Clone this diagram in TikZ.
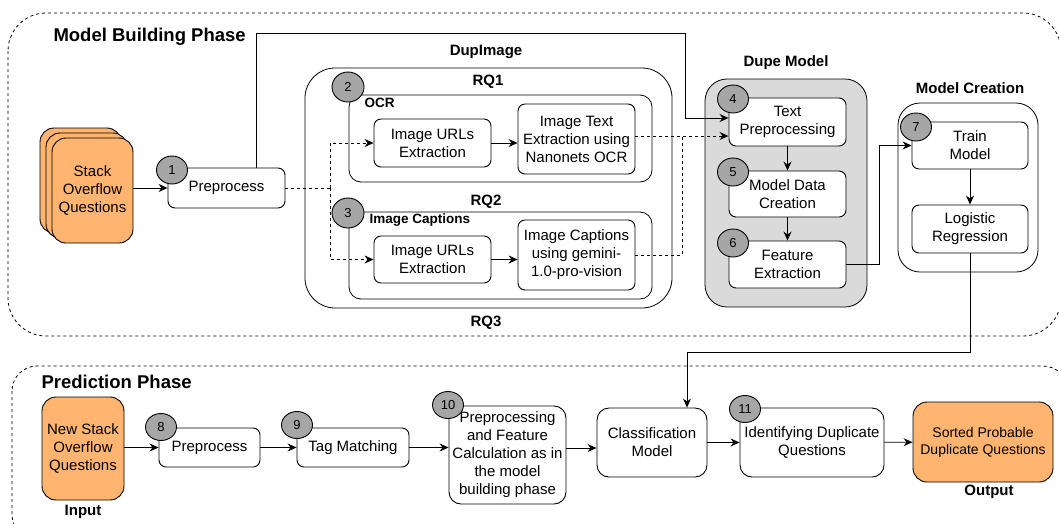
\documentclass[tikz,border=0pt]{standalone}
\usepackage{fontspec}
\setmainfont{Liberation Sans}
\usetikzlibrary{arrows.meta,shapes.geometric}
\definecolor{orng}{HTML}{FFB570}
\definecolor{numgray}{HTML}{A6A6A6}
\definecolor{dupegray}{HTML}{DADADA}
\tikzset{
  box/.style={draw,rounded corners=7pt,fill=white,line width=0.9pt,align=center,inner sep=1pt,font=\fontsize{15}{18}\selectfont},
  qbox/.style={box,fill=orng,rounded corners=14pt},
  num/.style={draw,ellipse,fill=numgray,minimum width=31pt,minimum height=28pt,inner sep=0pt,line width=0.9pt,font=\fontsize{13}{15}\selectfont},
  grp/.style={draw,line width=0.8pt,rounded corners=20pt},
  ttl/.style={font=\bfseries\fontsize{15}{18}\selectfont},
  sub/.style={font=\bfseries\fontsize{13.5}{16}\selectfont},
  phase/.style={font=\bfseries\fontsize{18.5}{22}\selectfont},
  arr/.style={-{Stealth[length=9pt,width=8pt]},line width=0.9pt},
  dsh/.style={dashed,line width=0.9pt},
}
\begin{document}
\begin{tikzpicture}[x=1pt,y=-1pt]
\useasboundingbox (0,0) rectangle (1059,523);
\draw[dashed,line width=0.8pt,rounded corners=38pt] (8,13) rectangle (1061,336);
\draw[dashed,line width=0.8pt,rounded corners=25pt] (12,366) rectangle (1068,540);
\node[phase,anchor=west] (mbp) at (50,37){Model Building Phase};
\node[phase,anchor=west] (pp) at (38,382){Prediction Phase};
\node[qbox,minimum width=81,minimum height=105] (stk3) at (80.5,180.5){};
\node[qbox,minimum width=81,minimum height=105] (stk2) at (86.5,185.5){};
\node[qbox,minimum width=81,minimum height=105] (stk) at (92.5,190.5){Stack\\Overflow\\Questions};
\node[box,minimum width=117,minimum height=40] (pre1) at (226.5,188){Preprocess};
\node[grp,minimum width=367,minimum height=240,rounded corners=30pt] (dup) at (488.5,188){};
\node[ttl] (duptl) at (486,52){DupImage};
\node[ttl] (rq1) at (488,82){RQ1};
\node[ttl] (rq2) at (486,202){RQ2};
\node[ttl] (rq3) at (486,323){RQ3};
\node[grp,minimum width=303,minimum height=87,rounded corners=12pt] (ocr) at (500.5,138.5){};
\node[grp,minimum width=303,minimum height=87,rounded corners=12pt] (cap) at (500.5,255.5){};
\node[sub,anchor=west] (ocrtl) at (361,103){OCR};
\node[sub,anchor=west] (captl) at (366,220){Image Captions};
\node[box,minimum width=117,minimum height=48] (url1) at (432.5,143){Image URLs\\Extraction};
\node[box,minimum width=117,minimum height=70] (ocrx) at (576.5,139){Image Text\\Extraction using\\Nanonets OCR};
\node[box,minimum width=117,minimum height=47] (url2) at (432.5,259.5){Image URLs\\Extraction};
\node[box,minimum width=117,minimum height=70] (gem) at (576.5,255){Image Captions\\using gemini-\\1.0-pro-vision};
\node[grp,fill=dupegray,minimum width=162,minimum height=228,rounded corners=22pt] (dupe) at (786,193){};
\node[ttl] (dupetl) at (786,63){Dupe Model};
\node[box,minimum width=117,minimum height=48] (txt) at (787.5,122){Text\\Preprocessing};
\node[box,minimum width=117,minimum height=46] (mdc) at (787.5,194){Model Data\\Creation};
\node[box,minimum width=117,minimum height=47] (fex) at (787.5,264.5){Feature\\Extraction};
\node[grp,minimum width=140,minimum height=169,rounded corners=22pt] (mcr) at (968,187.5){};
\node[ttl] (mcrtl) at (970,88){Model Creation};
\node[box,minimum width=116,minimum height=47] (trn) at (970,145.5){Train\\Model};
\node[box,minimum width=116,minimum height=48] (lgr) at (970,229){Logistic\\Regression};
\node[qbox,minimum width=82,minimum height=103] (new) at (83,448.5){New Stack\\Overflow\\Questions};
\node[ttl] (inp) at (83,512){Input};
\node[box,minimum width=101,minimum height=39] (pp8) at (209.5,447.5){Preprocess};
\node[box,minimum width=112,minimum height=39] (tag) at (353,447.5){Tag Matching};
\node[box,minimum width=117,minimum height=98,rounded corners=12pt] (pfc) at (507.5,455){Preprocessing\\and Feature\\Calculation as in\\the model\\building phase};
\node[box,minimum width=110,minimum height=69,rounded corners=12pt] (cls) at (652,442.5){Classification\\Model};
\node[box,minimum width=144,minimum height=69,rounded corners=12pt] (idd) at (812,442.5){Identifying Duplicate\\Questions};
\node[qbox,minimum width=140,minimum height=80,font=\fontsize{14}{17}\selectfont] (srt) at (983,442){Sorted Probable\\Duplicate Questions};
\node[ttl] (outp) at (989,492){Output};
\node[num] (n1) at (172,170){1};
\node[num,minimum width=32,minimum height=30] (n2) at (348,87){2};
\node[num,minimum width=32,minimum height=30] (n3) at (348,213){3};
\node[num] (n4) at (733,99){4};
\node[num] (n5) at (733,172){5};
\node[num] (n6) at (733,243){6};
\node[num] (n7) at (916,127){7};
\node[num,minimum height=27] (n8) at (161,427){8};
\node[num,minimum height=27] (n9) at (297,425){9};
\node[num,minimum height=27] (n10) at (448,405){10};
\node[num,minimum height=27] (n11) at (745,409){11};
\coordinate (sp) at (330,188);
\coordinate (top) at (685,33);
\coordinate (jn) at (682,136);
\draw[arr] (stk.east|-pre1.west) -- (pre1.west);
\draw[arr] ([xshift=30pt]pre1.north) |- (top) |- ([yshift=4pt]txt.west);
\draw[dsh] (pre1.east) -- (sp);
\draw[dsh,arr] (sp) |- (url1.west);
\draw[dsh,arr] (sp) |- (url2.west);
\draw[arr] (url1.east) -- (url1.east-|ocrx.west);
\draw[arr] (url2.east) -- (url2.east-|gem.west);
\draw[dsh,arr] ([yshift=3pt]ocrx.east) -- ([yshift=-14pt]txt.west);
\draw[dsh] (gem.east) -| (jn);
\draw[arr] (txt) -- (mdc);
\draw[arr] (mdc) -- (fex);
\draw[arr] (fex.east) -- ++(33,0) |- (trn.west);
\draw[arr] (trn) -- (lgr);
\draw[arr] (lgr.south) -- ++(0,99) -| ([xshift=35pt]cls.north);
\draw[arr] (new.east|-pp8.west) -- (pp8.west);
\draw[arr] (pp8) -- (tag);
\draw[arr] (tag.east) -- (tag.east-|pfc.west);
\draw[arr] ([yshift=7pt]pfc.east) -- ([yshift=-5.5pt]cls.west);
\draw[arr] (cls) -- (idd);
\draw[arr] (idd) -- (srt);
\end{tikzpicture}
\end{document}
